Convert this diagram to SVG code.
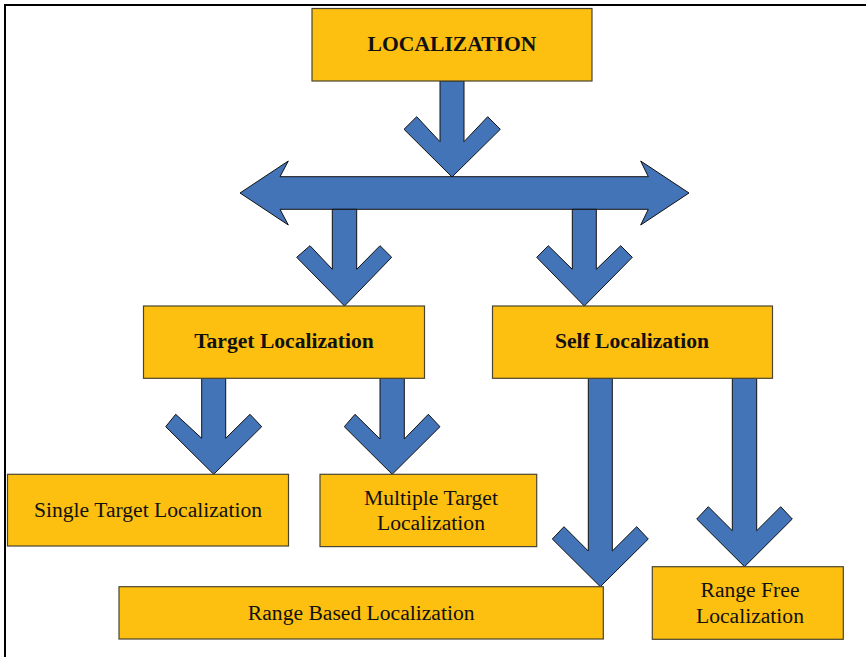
<svg xmlns="http://www.w3.org/2000/svg" width="866" height="657" viewBox="0 0 866 657">
  <style>
    .box { fill: #FDC010; stroke: #4a4530; stroke-width: 1.2; }
    .arrow { fill: #4474B8; stroke: #111111; stroke-width: 1; stroke-linejoin: miter; }
    .frame { fill: none; stroke: #000000; stroke-width: 2; }
    text { font-family: "Liberation Serif", "Times New Roman", serif; font-size: 21.6px; fill: #111111; text-anchor: middle; }
    .bold { font-weight: bold; }
  </style>

  <!-- page frame (top and left edges only) -->
  <path class="frame" d="M5,657 V5 H866"/>

  <g id="connectors">
    <!-- LOCALIZATION down to the split bar -->
    <path class="arrow" d="M440,81 V141.7 L416.7,116.7 L404,129.3 L452,177 L500.3,129.3 L487.7,116.7 L464,141.7 V81 Z"/>
    <!-- left-right split bar -->
    <path class="arrow" d="M240,193 L288.3,161 L280,176.7 H648.3 L640.7,161 L689,193 L640.7,225 L648.3,209.3 H280 L288.3,225 Z"/>
    <!-- split bar down to Target Localization -->
    <path class="arrow" d="M332.3,209.3 V269.3 L310,245.7 L296.7,257.3 L344.5,306 L391.7,257.3 L380,245.7 L356.7,269.3 V209.3 Z"/>
    <!-- split bar down to Self Localization -->
    <path class="arrow" d="M572.3,209.3 V269.3 L548.3,245.7 L536.7,257.3 L584.3,306 L632.3,257.3 L620.7,245.7 L596.3,269.3 V209.3 Z"/>
    <!-- Target Localization to Single Target Localization -->
    <path class="arrow" d="M201.7,378.3 V438.3 L175.7,414.3 L165.7,426.7 L213.7,474.3 L261.7,426.7 L250,414.3 L225.7,438.3 V378.3 Z"/>
    <!-- Target Localization to Multiple Target Localization -->
    <path class="arrow" d="M380,378.3 V439 L355,414.3 L344.3,426.7 L392.2,474.3 L440,426.7 L428.3,414.3 L404.3,439 V378.3 Z"/>
    <!-- Self Localization to Range Based Localization -->
    <path class="arrow" d="M588.3,378.3 V551 L564,526.7 L552.3,539 L600.3,586.7 L648.3,539 L636.7,526.7 L612.3,551 V378.3 Z"/>
    <!-- Self Localization to Range Free Localization -->
    <path class="arrow" d="M732.3,378.3 V530.7 L708.3,506.7 L696.7,519 L744.5,566.7 L792.3,519 L780.7,506.7 L756.7,530.7 V378.3 Z"/>
  </g>

  <g id="localization">
    <rect class="box" x="312" y="8.5" width="280" height="72.5"/>
    <text class="bold" x="452" y="51">LOCALIZATION</text>
  </g>

  <g id="target-localization">
    <rect class="box" x="143.5" y="306" width="281" height="72.3"/>
    <text class="bold" x="284" y="348">Target Localization</text>
  </g>

  <g id="self-localization">
    <rect class="box" x="492.5" y="306" width="280" height="72.3"/>
    <text class="bold" x="632" y="348">Self Localization</text>
  </g>

  <g id="single-target-localization">
    <rect class="box" x="7.5" y="474.3" width="281" height="71.7"/>
    <text x="148" y="517">Single Target Localization</text>
  </g>

  <g id="multiple-target-localization">
    <rect class="box" x="320" y="474.3" width="216.7" height="72.3"/>
    <text x="431" y="505">Multiple Target</text>
    <text x="431" y="529.5">Localization</text>
  </g>

  <g id="range-based-localization">
    <rect class="box" x="119" y="586.7" width="484.3" height="52.3"/>
    <text x="361.2" y="620">Range Based Localization</text>
  </g>

  <g id="range-free-localization">
    <rect class="box" x="652.3" y="566.7" width="191" height="72.6"/>
    <text x="750" y="597">Range Free</text>
    <text x="750" y="622.5">Localization</text>
  </g>
</svg>
